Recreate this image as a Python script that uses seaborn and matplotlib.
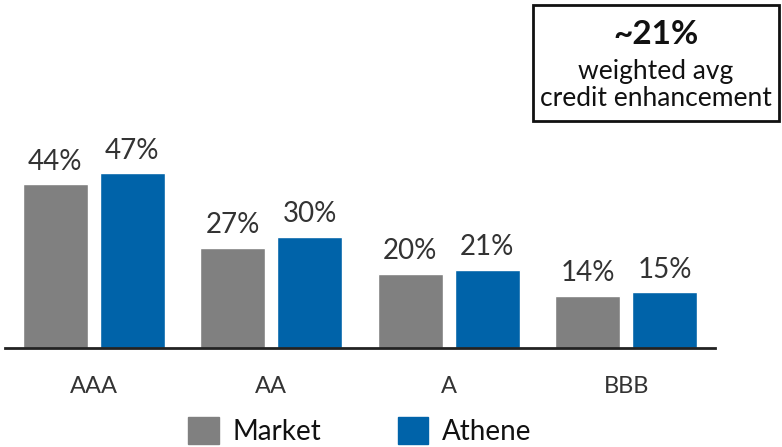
import matplotlib
matplotlib.use("Agg")
import matplotlib.pyplot as plt
import matplotlib.patches as mpatches
import seaborn as sns
import pandas as pd

categories = ["AAA", "AA", "A", "BBB"]
market = [44, 27, 20, 14]
athene = [47, 30, 21, 15]
series = ["Market", "Athene"]
colors = {"Market": "#808080", "Athene": "#0063A9"}

df = pd.DataFrame({
    "rating": categories * 2,
    "value": market + athene,
    "series": ["Market"] * 4 + ["Athene"] * 4,
})

sns.set_style("white")
plt.rcParams["font.family"] = ["Lato", "DejaVu Sans"]

W, H = 782, 447
fig = plt.figure(figsize=(W / 100, H / 100), dpi=100)
ax = fig.add_axes([5 / W, (H - 348) / H, 710 / W, 223 / H])

sns.barplot(data=df, x="rating", y="value", hue="series", order=categories,
            hue_order=series, palette=colors, width=0.867, gap=0.156,
            ax=ax, legend=False, saturation=1)

ax.set_xlim(-0.5, 3.5)
ax.set_ylim(0, 60)
for s in ["top", "right", "left"]:
    ax.spines[s].set_visible(False)
ax.spines["bottom"].set_color("#222222")
ax.spines["bottom"].set_linewidth(2)
ax.set_yticks([])
ax.set_xlabel("")
ax.set_ylabel("")
ax.tick_params(axis="x", length=0, pad=20, labelsize=17, labelcolor="#333333")

for cont in ax.containers:
    labels = [f"{v:.0f}%" for v in cont.datavalues]
    ax.bar_label(cont, labels=labels, padding=7, fontsize=20, color="#333333")

handles = [mpatches.Patch(color=colors[s], label=s) for s in series]
fig.legend(handles=handles, loc="center left", bbox_to_anchor=(188 / W, 1 - 431 / H),
           ncol=2, frameon=False, fontsize=20, handlelength=1.1, handleheight=1.1,
           columnspacing=2.75, handletextpad=0.5, borderaxespad=0, borderpad=0,
           labelcolor="#111111")

box = mpatches.Rectangle((533 / W, 1 - 121 / H), 246 / W, 116 / H,
                         transform=fig.transFigure, fill=False,
                         edgecolor="#111111", linewidth=2)
fig.patches.append(box)
fig.text(656 / W, 1 - 35 / H, "~21%", ha="center", va="center",
         fontsize=24, fontweight="bold", color="#111111")
fig.text(656 / W, 1 - 71 / H, "weighted avg", ha="center", va="center",
         fontsize=19, color="#111111")
fig.text(656 / W, 1 - 98 / H, "credit enhancement", ha="center", va="center",
         fontsize=19, color="#111111")

fig.savefig("out.png", dpi=100)
